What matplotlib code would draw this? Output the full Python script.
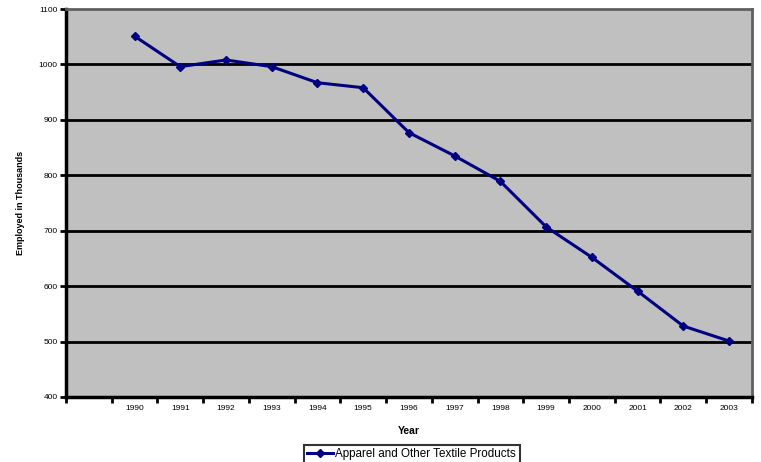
import matplotlib.pyplot as plt

# employment in apparel and other textile products (thousands)
years = ["1990", "1991", "1992", "1993", "1994", "1995", "1996",
         "1997", "1998", "1999", "2000", "2001", "2002", "2003"]
employed = [1051, 996, 1008, 996, 967, 958, 877, 835, 789, 707, 652, 591, 528, 501]
y_ticks = [400, 500, 600, 700, 800, 900, 1000, 1100]

plt.rcParams['font.family'] = ['Liberation Sans', 'DejaVu Sans']

fig = plt.figure(figsize=(7.61, 4.62), dpi=100)
ax = fig.add_axes([0.0867, 0.1407, 0.9013, 0.8398])
ax.set_facecolor("#c0c0c0")

# first category slot is left empty, like the original chart
xs = list(range(1, len(years) + 1))
ax.plot(xs, employed, color="#000080", linewidth=2.2, marker="D",
        markersize=4.5, label="Apparel and Other Textile Products")

ax.set_xlim(-0.5, len(years) + 0.5)
ax.set_ylim(400, 1100)

# grid lines
ax.set_yticks(y_ticks)
ax.set_yticklabels([str(v) for v in y_ticks], fontsize=6)
for v in y_ticks[1:-1]:
    ax.axhline(v, color="black", linewidth=2.0, zorder=1)

# category labels centred in slots, tick marks on slot boundaries
ax.set_xticks([x + 0.5 for x in range(-1, len(years) + 1)])
ax.set_xticklabels([])
ax.set_xticks(xs, minor=True)
ax.set_xticklabels(years, minor=True, fontsize=6)
ax.tick_params(axis="x", which="minor", length=0, pad=6)
ax.tick_params(axis="x", which="major", length=4, width=2, direction="out")
ax.tick_params(axis="y", length=4, width=2, direction="out", pad=2)

for side in ["left", "bottom"]:
    ax.spines[side].set_linewidth(2.5)
    ax.spines[side].set_color("black")
for side in ["top", "right"]:
    ax.spines[side].set_linewidth(2.0)
    ax.spines[side].set_color("#606060")

ax.set_xlabel("Year", fontsize=7.5, fontweight="bold", labelpad=10)
ax.set_ylabel("Employed in Thousands", fontsize=6.5, fontweight="bold", labelpad=10)

leg = fig.legend(loc="upper center", bbox_to_anchor=(0.541, 0.037), fontsize=8.4,
                 frameon=True, fancybox=False, edgecolor="black",
                 handlelength=2.2, handletextpad=0.2, borderpad=0.3, borderaxespad=0)
leg.get_frame().set_linewidth(1.5)

fig.savefig("out.png", dpi=100)
